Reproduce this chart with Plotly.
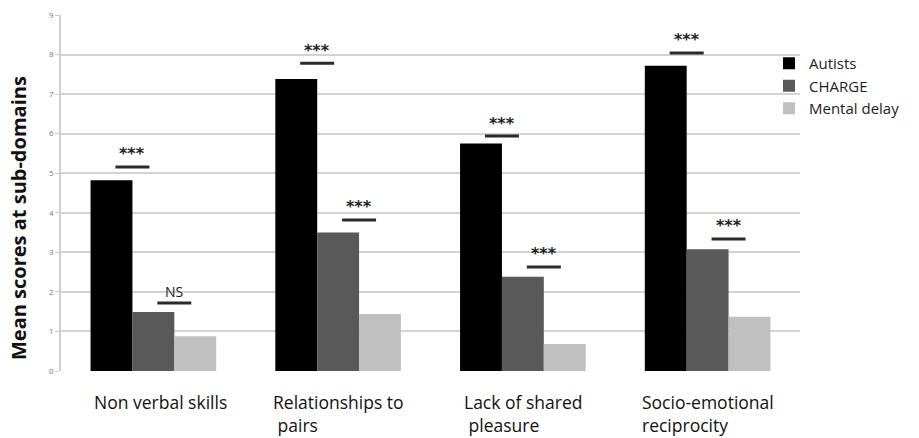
import plotly.graph_objects as go

categories = ["Non verbal skills", "Relationships to pairs", "Lack of shared pleasure", "Socio-emotional reciprocity"]
cat_labels = ["Non verbal skills", "Relationships to<br> pairs", "Lack of shared<br> pleasure", "Socio-emotional<br>reciprocity"]
series_names = ["Autists", "CHARGE", "Mental delay"]
autists = [4.82, 7.38, 5.75, 7.72]
charge = [1.49, 3.50, 2.38, 3.08]
mental_delay = [0.88, 1.44, 0.68, 1.37]
colors = ["#000000", "#595959", "#c0c0c0"]

# significance: Autists vs CHARGE, CHARGE vs Mental delay
sig1_labels = ["***", "***", "***", "***"]
sig1_heights = [5.16, 7.78, 5.94, 8.04]
sig2_labels = ["NS", "***", "***", "***"]
sig2_heights = [1.72, 3.82, 2.63, 3.34]
y_ticks = list(range(0, 10))

W, H = 919, 438
ML, MT, MB = 61, 15, 67
plot_right = 800

fig = go.Figure()
for name, vals, col in zip(series_names, [autists, charge, mental_delay], colors):
    fig.add_trace(go.Bar(name=name, x=categories, y=vals, marker=dict(color=col, line=dict(width=0))))

bargap = 0.32
bw = (1 - bargap) / 3
half = 0.092
for i in range(len(categories)):
    for lab, h, off in [(sig1_labels[i], sig1_heights[i], -bw / 2), (sig2_labels[i], sig2_heights[i], bw / 2)]:
        xc = i + off
        fig.add_shape(type="line", xref="x", yref="y", x0=xc - half, x1=xc + half, y0=h, y1=h,
                      line=dict(color="#2a2a2a", width=3))
        is_ns = lab == "NS"
        fig.add_annotation(x=xc, y=h, xref="x", yref="y", text=lab if is_ns else "<b>***</b>",
                           showarrow=False, yshift=11 if is_ns else 13,
                           font=dict(size=14 if is_ns else 16, color="#222",
                                     family="Open Sans" if is_ns else "DejaVu Sans"))

for i, lab in enumerate(cat_labels):
    fig.add_annotation(x=i + (0.04 if i == 0 else 0), y=0, xref="x", yref="paper", text=lab, showarrow=False,
                       xanchor="center", yanchor="top", align="left", yshift=-17,
                       font=dict(size=17.5, color="#111", family="Open Sans"))

# y-axis title
fig.add_annotation(x=0, y=(H - MB - 218) / (H - MB - MT), xref="paper", yref="paper",
                   xshift=-(ML - 18), text="<b>Mean scores at sub-domains</b>", textangle=-90,
                   showarrow=False, xanchor="center", yanchor="middle",
                   font=dict(size=20, color="#111", family="Open Sans"))

dom_r = (plot_right - ML) / (W - ML)
fig.update_layout(
    width=W, height=H,
    margin=dict(l=ML, r=0, t=MT, b=MB),
    paper_bgcolor="white", plot_bgcolor="white",
    barmode="group", bargap=bargap, bargroupgap=0,
    font=dict(family="Open Sans", color="#111"),
    legend=dict(x=(769 - ML) / (W - ML), y=(H - MB - 47) / (H - MB - MT), xanchor="left", yanchor="top",
                font=dict(size=15, color="#222", family="Open Sans"),
                itemwidth=30, tracegroupgap=0, bgcolor="rgba(0,0,0,0)"),
    showlegend=True,
)
fig.update_xaxes(domain=[0, dom_r], showticklabels=False, showline=False, ticks="", showgrid=False)
fig.update_yaxes(range=[0, 9], tickvals=y_ticks, showgrid=True, gridcolor="#d3d3d3", gridwidth=1.5,
                 showline=True, linecolor="#cfcfcf", linewidth=1.5, ticks="outside", ticklen=4,
                 tickcolor="#cfcfcf", tickfont=dict(size=8, color="#777"), zeroline=False)

fig.write_html("out.html")
